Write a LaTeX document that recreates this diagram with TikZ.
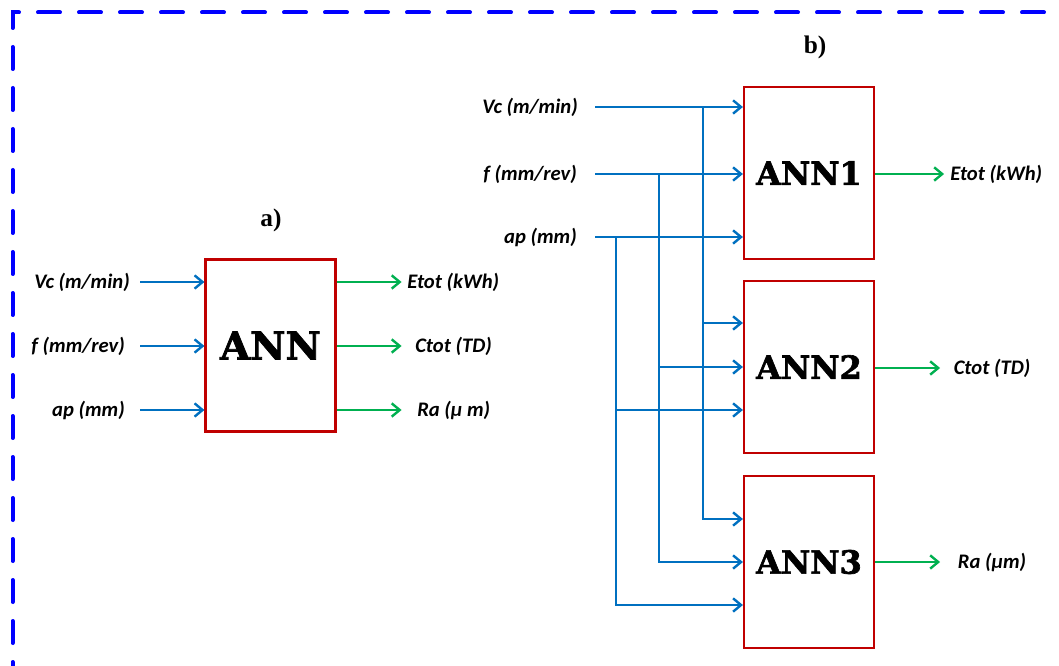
\documentclass[tikz,border=0pt]{standalone}
\usepackage{fontspec}
\setmainfont{Liberation Serif}
\newfontfamily\lblfont{Carlito}
\newfontfamily\annfont[FakeBold=2]{DejaVu Serif}
\usetikzlibrary{arrows.meta,calc}
\definecolor{inblue}{HTML}{0070C0}
\definecolor{outgreen}{HTML}{00B050}
\definecolor{annred}{HTML}{C00000}
\definecolor{frameblue}{HTML}{0000FF}
\tikzset{
  lbl/.style={font=\lblfont\bfseries\itshape\fontsize{15.5}{18}\selectfont, inner sep=0pt},
  annbox/.style={draw=annred, line width=1.6pt, fill=white, minimum width=97.5pt, minimum height=129pt, inner sep=0pt},
  bigann/.style={font=\annfont\bfseries\fontsize{29}{34}\selectfont},
  smallann/.style={font=\annfont\bfseries\fontsize{24}{28}\selectfont},
  inarrow/.style={draw=inblue, line width=1.8pt, -{Straight Barb[length=6pt,width=10pt]}},
  outarrow/.style={draw=outgreen, line width=1.8pt, -{Straight Barb[length=6pt,width=10pt]}},
  framedash/.style={draw=frameblue, line width=3pt, line cap=round, dash pattern=on 16.5pt off 14.25pt},
  partlbl/.style={font=\bfseries\fontsize{19}{22}\selectfont, inner sep=0pt},
}
\begin{document}
\begin{tikzpicture}[x=0.75pt,y=-0.75pt]
\useasboundingbox (0,0) rectangle (1059,666);
\clip (0,0) rectangle (1059,666);
% frame
\draw[framedash] (12.5,28) -- (12.5,12.5) -- (1120,12.5);
\draw[framedash] (12.5,47) -- (12.5,720);

% ---------- a) ----------
\node[partlbl] (pa) at (271,220) {a)};
\node[annbox,bigann] (ann) at (270.5,345.5) {ANN};
\node[lbl,anchor=east] (vca) at (130,282) {Vc (m/min)};
\node[lbl,anchor=east] (fa) at (125,346) {f (mm/rev)};
\node[lbl,anchor=east] (apa) at (125,410) {ap (mm)};
\draw[inarrow] ($(ann.west |- vca.east)-(64,0)$) -- (ann.west |- vca.east);
\draw[inarrow] ($(ann.west |- fa.east)-(64,0)$) -- (ann.west |- fa.east);
\draw[inarrow] ($(ann.west |- apa.east)-(64,0)$) -- (ann.west |- apa.east);
\node[lbl,anchor=west] (eta) at (407,282) {Etot (kWh)};
\node[lbl,anchor=west] (cta) at (415,346) {Ctot (TD)};
\node[lbl,anchor=west] (raa) at (417,410) {Ra (µ m)};
\draw[outarrow] (ann.east |- eta.west) -- ($(ann.east |- eta.west)+(65,0)$);
\draw[outarrow] (ann.east |- cta.west) -- ($(ann.east |- cta.west)+(65,0)$);
\draw[outarrow] (ann.east |- raa.west) -- ($(ann.east |- raa.west)+(65,0)$);

% ---------- b) ----------
\node[partlbl] (pb) at (815,47) {b)};
\node[annbox,smallann] (ann1) at (809,173) {ANN1};
\node[annbox,smallann] (ann2) at (809,367) {ANN2};
\node[annbox,smallann] (ann3) at (809,562) {ANN3};
\node[lbl,anchor=east] (vcb) at (578,107) {Vc (m/min)};
\node[lbl,anchor=east] (fb) at (577,174) {f (mm/rev)};
\node[lbl,anchor=east] (apb) at (577,237) {ap (mm)};
\draw[inarrow] ($(vcb.east)+(17,0)$) -- (ann1.west |- vcb.east);
\draw[inarrow] ($(fb.east)+(18,0)$) -- (ann1.west |- fb.east);
\draw[inarrow] ($(apb.east)+(18,0)$) -- (ann1.west |- apb.east);
\coordinate (jv) at (703,107);
\coordinate (jf) at (659,174);
\coordinate (ja) at (616,237);
\coordinate (t2v) at ($(ann2.west)+(0,-44)$);
\coordinate (t2f) at (ann2.west);
\coordinate (t2a) at ($(ann2.west)+(0,43)$);
\coordinate (t3v) at ($(ann3.west)+(0,-43)$);
\coordinate (t3f) at (ann3.west);
\coordinate (t3a) at ($(ann3.west)+(0,43)$);
\draw[inarrow] (jv) |- (t3v);
\draw[inarrow] (jf) |- (t3f);
\draw[inarrow] (ja) |- (t3a);
\draw[inarrow] (jv |- t2v) -- (t2v);
\draw[inarrow] (jf |- t2f) -- (t2f);
\draw[inarrow] (ja |- t2a) -- (t2a);
\node[lbl,anchor=west] (etb) at (950,174) {Etot (kWh)};
\node[lbl] (ctb) at (992,368) {Ctot (TD)};
\node[lbl] (rab) at (992,562) {Ra (µm)};
\draw[outarrow] (ann1.east |- etb.west) -- ($(ann1.east |- etb.west)+(69,0)$);
\draw[outarrow] (ann2.east |- ctb.west) -- ($(ann2.east |- ctb.west)+(65,0)$);
\draw[outarrow] (ann3.east |- rab.west) -- ($(ann3.east |- rab.west)+(65,0)$);
\end{tikzpicture}
\end{document}
